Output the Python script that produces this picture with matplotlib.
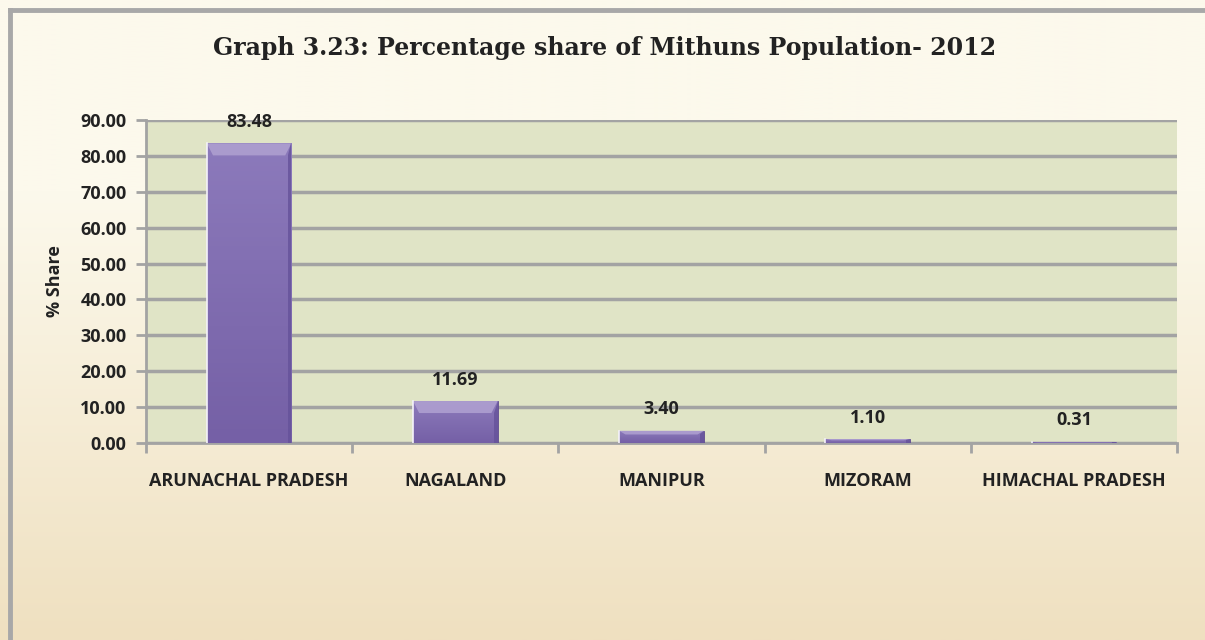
import matplotlib
matplotlib.use("Agg")
import matplotlib.pyplot as plt
import numpy as np
from matplotlib.patches import Polygon
from matplotlib.lines import Line2D

categories = ["ARUNACHAL PRADESH", "NAGALAND", "MANIPUR", "MIZORAM", "HIMACHAL PRADESH"]
values = [83.48, 11.69, 3.40, 1.10, 0.31]
labels = ["83.48", "11.69", "3.40", "1.10", "0.31"]
yticks = [0, 10, 20, 30, 40, 50, 60, 70, 80, 90]

W, H = 1205, 640
FONT = "Open Sans"
FS = 13
fig = plt.figure(figsize=(W / 100, H / 100), dpi=100)

# background gradient
bg = fig.add_axes([0, 0, 1, 1], zorder=-10)
t = np.linspace(0, 1, 256)
t = np.clip((t - 0.3) / 0.7, 0, 1)[:, None]
c_top = np.array([0xFC, 0xF9, 0xEC]) / 255
c_bot = np.array([0xEF, 0xE0, 0xC0]) / 255
img = c_top[None, None, :] * (1 - t[:, :, None]) + c_bot[None, None, :] * t[:, :, None]
bg.imshow(img, aspect="auto", extent=[0, 1, 0, 1], origin="upper")
bg.set_xlim(0, 1); bg.set_ylim(0, 1)
bg.axis("off")
# frame (top and left edges)
bg.add_line(Line2D([10 / W, 1], [1 - 10 / H, 1 - 10 / H], color="#A8A8A8", linewidth=3.5, transform=bg.transAxes))
bg.add_line(Line2D([10 / W, 10 / W], [0, 1 - 10 / H], color="#A8A8A8", linewidth=3.5, transform=bg.transAxes))

ax = fig.add_axes([146 / W, 1 - 443 / H, (1177 - 146) / W, (443 - 120) / H])
ax.set_facecolor("#E0E4C6")
x = np.arange(len(categories))
bw = 0.41
bars = ax.bar(x, values, width=bw, color="#8470B0", edgecolor="#5E4A8E", linewidth=0.6, zorder=3)

ax.set_ylim(0, 90)
ax.set_xlim(-0.5, len(categories) - 0.5)

# vertical gradient inside each bar
cmap_grad = matplotlib.colors.LinearSegmentedColormap.from_list("bg", ["#7560A6", "#8C7ABB"])
ax_h = ax.get_position().height * H
px_per_unit = ax_h / 90.0
for b, xi, v in zip(bars, x, values):
    gimg = ax.imshow(np.linspace(0, 1, 64)[:, None], cmap=cmap_grad, origin="lower",
                     extent=[xi - bw / 2, xi + bw / 2, 0, v], aspect="auto", zorder=3.5)
    gimg.set_clip_path(b)
    bev = min(12.0 / px_per_unit, v * 0.3)
    bx = 0.03
    top = Polygon([(xi - bw / 2, v), (xi + bw / 2, v), (xi + bw / 2 - bx, v - bev), (xi - bw / 2 + bx, v - bev)],
                  closed=True, facecolor="#AE9FD0", edgecolor="none", alpha=0.9, zorder=4)
    ax.add_patch(top)
    right = Polygon([(xi + bw / 2, v), (xi + bw / 2, 0), (xi + bw / 2 - bx * 0.6, 0), (xi + bw / 2 - bx * 0.6, v - bev)],
                    closed=True, facecolor="#65529A", edgecolor="none", alpha=0.8, zorder=4)
    ax.add_patch(right)
    ax.add_line(Line2D([xi - bw / 2, xi - bw / 2], [0, v], color="#F4F2FA", linewidth=1.2, zorder=4.5))
ax.set_xlim(-0.5, len(categories) - 0.5)
ax.set_ylim(0, 90)

for xi, v, lab in zip(x, values, labels):
    ax.annotate(lab, (xi, v), xytext=(0, 9), textcoords="offset points", ha="center", va="bottom",
                fontsize=FS, fontweight="bold", family=FONT, color="#222222", zorder=5)

ax.set_yticks(yticks)
ax.set_yticklabels([f"{t:.2f}" for t in yticks], fontsize=FS, fontweight="bold", family=FONT, color="#222222")
ax.yaxis.grid(True, color="#A3A3A3", linewidth=2.5, zorder=1)
ax.set_axisbelow(True)
ax.tick_params(axis="y", length=7, width=2, color="#A3A3A3", pad=7)

ax.set_xticks(x)
ax.set_xticklabels(categories, fontsize=FS, fontweight="bold", family=FONT, color="#222222")
ax.tick_params(axis="x", length=0, pad=21)
ax.set_xticks(np.arange(-0.5, len(categories)), minor=True)
ax.tick_params(axis="x", which="minor", length=7, width=2, color="#A3A3A3")

for s in ["top", "right"]:
    ax.spines[s].set_visible(False)
for s in ["left", "bottom"]:
    ax.spines[s].set_color("#A3A3A3")
    ax.spines[s].set_linewidth(2)

ax.set_ylabel("% Share", fontsize=FS, fontweight="bold", family=FONT, color="#222222", labelpad=12)

fig.text(605 / W, 1 - 48 / H, "Graph 3.23: Percentage share of Mithuns Population- 2012",
         ha="center", va="center", fontsize=17, fontweight="bold", family="DejaVu Serif", color="#222222")

fig.savefig("out.png", dpi=100)
